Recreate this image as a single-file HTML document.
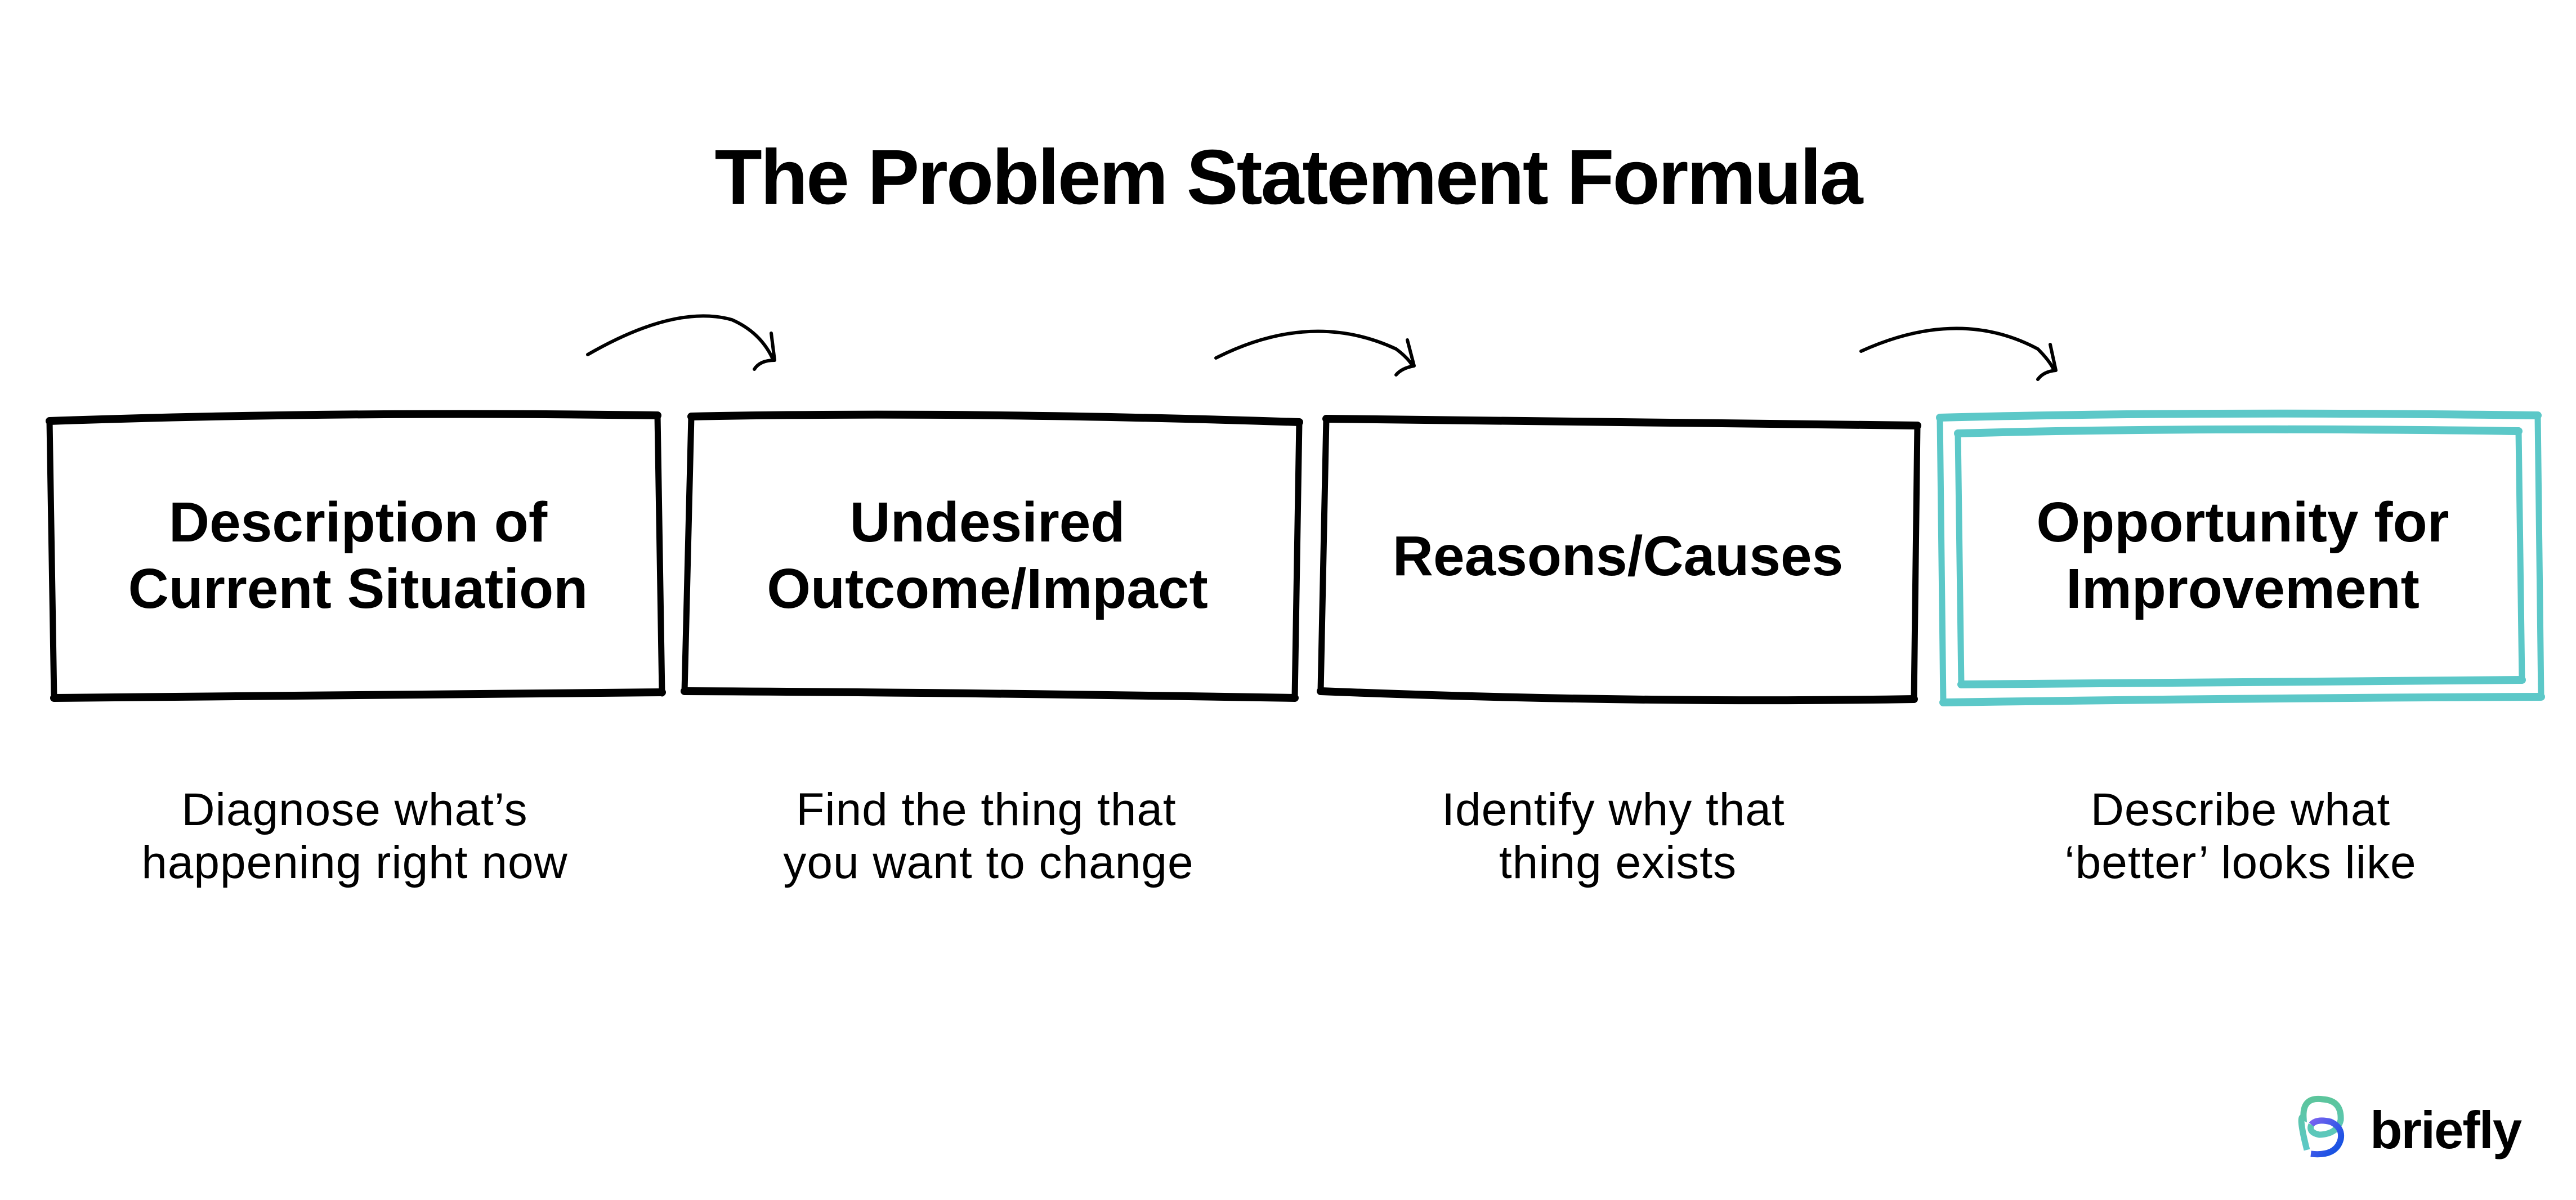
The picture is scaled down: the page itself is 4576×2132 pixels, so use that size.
<!DOCTYPE html>
<html><head><meta charset="utf-8"><style>
html,body{margin:0;padding:0;background:#fff;}
svg{display:block}
text{font-family:"Liberation Sans",Arial,sans-serif;fill:#000}
.h{font-weight:bold;font-size:100px;text-anchor:middle;letter-spacing:0px}
.d{font-size:82px;text-anchor:middle;letter-spacing:1px}
</style></head><body>
<svg width="4576" height="2132" viewBox="0 0 4576 2132" xmlns="http://www.w3.org/2000/svg">
<defs>
<linearGradient id="g1" x1="0" y1="0" x2="0" y2="1"><stop offset="0" stop-color="#5cc59c"/><stop offset="1" stop-color="#5cc8c8"/></linearGradient>
<linearGradient id="g2" x1="0" y1="0" x2="1" y2="1"><stop offset="0" stop-color="#7a63f0"/><stop offset="0.5" stop-color="#3a58e8"/><stop offset="1" stop-color="#0a50e0"/></linearGradient>
</defs>
<text x="2288" y="362" font-size="138" font-weight="bold" text-anchor="middle" letter-spacing="-3" style="font-family:'Liberation Sans',Arial,sans-serif">The Problem Statement Formula</text>

<g fill="none" stroke="#000" stroke-linecap="round" stroke-linejoin="round">
<path d="M88 748 Q600 730 1168 738" stroke-width="14"/>
<path d="M1168 738 L1176 1232" stroke-width="11"/>
<path d="M1176 1230 Q600 1236 96 1240" stroke-width="14"/>
<path d="M96 1240 L88 748" stroke-width="11"/>
<path d="M1228 740 Q1700 730 2308 750" stroke-width="14"/>
<path d="M2308 750 L2300 1240" stroke-width="11"/>
<path d="M2300 1240 Q1700 1230 1216 1228" stroke-width="14"/>
<path d="M1216 1228 L1228 740" stroke-width="11"/>
<path d="M2356 744 Q2800 748 3406 756" stroke-width="14"/>
<path d="M3406 756 L3400 1242" stroke-width="11"/>
<path d="M3400 1242 Q2900 1250 2346 1228" stroke-width="14"/>
<path d="M2346 1228 L2356 744" stroke-width="11"/>
<path d="M1044 630 Q1200 540 1300 568 Q1350 590 1372 636" stroke-width="6"/>
<path d="M1370 592 L1376 640 Q1350 640 1340 656" stroke-width="6"/>
<path d="M2160 636 Q2330 550 2480 620 Q2500 635 2508 648" stroke-width="6"/>
<path d="M2500 604 L2512 650 Q2490 654 2480 666" stroke-width="6"/>
<path d="M3306 624 Q3480 545 3620 620 Q3640 640 3648 656" stroke-width="6"/>
<path d="M3642 612 L3652 658 Q3630 660 3620 674" stroke-width="6"/>
</g>
<g fill="none" stroke="#5cc8c8" stroke-linecap="round" stroke-linejoin="round">
<path d="M3446 742 Q3900 730 4508 738" stroke-width="14"/>
<path d="M4508 738 L4514 1238" stroke-width="11"/>
<path d="M4514 1238 Q4000 1240 3452 1248" stroke-width="14"/>
<path d="M3452 1248 L3446 742" stroke-width="11"/>
<path d="M3478 770 Q3900 758 4474 766" stroke-width="14"/>
<path d="M4474 766 L4480 1208" stroke-width="11"/>
<path d="M4480 1208 Q4000 1212 3484 1216" stroke-width="14"/>
<path d="M3484 1216 L3478 770" stroke-width="11"/>
</g>

<text class="h" x="636" y="962">Description of</text>
<text class="h" x="636" y="1080">Current Situation</text>
<text class="h" x="1754" y="962">Undesired</text>
<text class="h" x="1754" y="1080">Outcome/Impact</text>
<text class="h" x="2874" y="1022">Reasons/Causes</text>
<text class="h" x="3984" y="962">Opportunity for</text>
<text class="h" x="3984" y="1080">Improvement</text>

<text class="d" x="630" y="1466">Diagnose what’s</text>
<text class="d" x="630" y="1560">happening right now</text>
<text class="d" x="1752" y="1466">Find the thing that</text>
<text class="d" x="1756" y="1560">you want to change</text>
<text class="d" x="2866" y="1466">Identify why that</text>
<text class="d" x="2874" y="1560">thing exists</text>
<text class="d" x="3980" y="1466">Describe what</text>
<text class="d" x="3980" y="1560">‘better’ looks like</text>

<path d="M4098 2043 Q4082 1980 4092 1985 Q4090 1948 4126 1953 Q4160 1955 4158 1990 Q4152 2015 4120 2016 Q4100 2012 4106 1998" fill="none" stroke="url(#g1)" stroke-width="11" stroke-linecap="butt"/>
<path d="M4106 1998 Q4115 1987 4140 1993 Q4162 2003 4158 2024 Q4150 2055 4105 2050" fill="none" stroke="url(#g2)" stroke-width="11"/>
<text x="4210" y="2040" font-size="94" font-weight="bold" letter-spacing="-2" style="font-family:'Liberation Sans',Arial,sans-serif">briefly</text>
</svg>
</body></html>
